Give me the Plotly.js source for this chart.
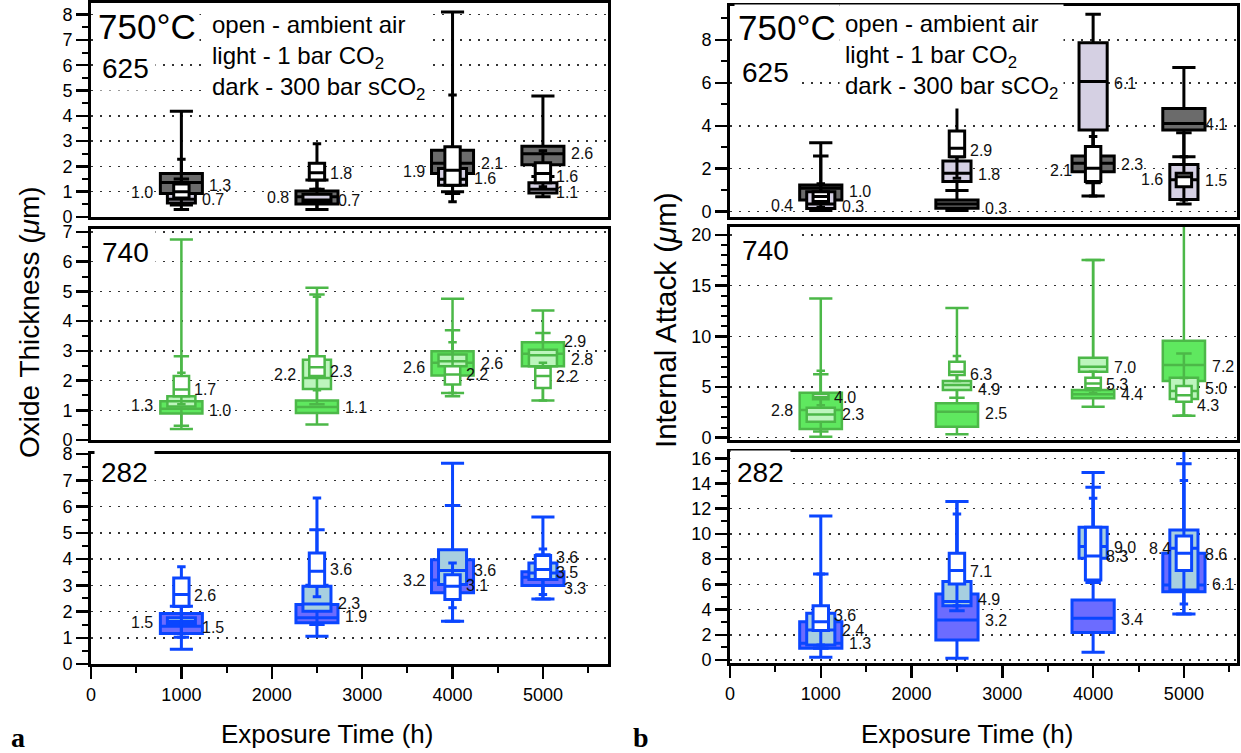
<!DOCTYPE html>
<html><head><meta charset="utf-8">
<script src="https://cdn.plot.ly/plotly-3.0.1.min.js"></script>
<style>html,body{margin:0;padding:0;background:#fff}#chart{width:1241px;height:753px}</style>
</head><body><div id="chart"></div>
<script>
// Exposure times (h)
const times = [1000, 2500, 4000, 5000];

// Box statistics per time: [lowerfence, q1, median, q3, upperfence]
// Oxide thickness, alloy 625
const ox625Open  = [[0.5,0.75,1.0,1.3,2.28],[1.1,1.46,1.75,2.12,2.9],[0.6,1.26,1.85,2.78,4.82],[1.2,1.35,1.72,2.14,2.62]];
const ox625Light = [[0.3,0.55,0.7,0.93,1.5],[0.3,0.55,0.67,0.9,1.1],[0.93,1.26,1.49,1.92,2.6],[0.8,0.95,1.1,1.35,1.6]];
const ox625Dark  = [[0.47,0.93,1.36,1.72,4.18],[0.3,0.51,0.8,1.03,1.46],[1.0,1.72,2.12,2.64,8.1],[1.6,2.07,2.5,2.8,4.78]];
// Oxide thickness, alloy 740
const ox740Open  = [[1.2,1.47,1.7,2.15,2.26],[1.67,2.15,2.45,2.82,4.82],[1.58,1.87,2.2,2.48,3.29],[1.33,1.75,2.15,2.43,2.6]];
const ox740Light = [[0.48,1.13,1.3,1.47,2.82],[1.2,1.72,2.09,2.7,4.9],[1.47,2.48,2.65,2.88,3.69],[1.84,2.48,2.85,3.04,3.6]];
const ox740Dark  = [[0.37,0.89,1.05,1.3,6.75],[0.52,0.91,1.11,1.33,5.12],[1.58,2.17,2.6,2.99,4.75],[1.33,2.48,2.9,3.29,4.36]];
// Oxide thickness, alloy 282
const ox282Open  = [[1.02,2.2,2.65,3.28,3.7],[2.56,2.96,3.53,4.23,6.32],[2.14,2.46,2.96,3.4,3.85],[2.65,3.22,3.6,4.13,4.38]];
const ox282Light = [[1.02,1.5,1.62,1.76,2.2],[1.5,2.01,2.29,2.96,5.11],[1.63,3.03,3.56,4.35,6.04],[2.48,3.22,3.47,3.85,4.16]];
const ox282Dark  = [[0.56,1.16,1.44,1.92,2.2],[1.06,1.57,1.76,2.27,3.0],[1.63,2.71,3.2,3.97,7.65],[2.48,2.99,3.3,3.51,5.6]];
// Internal attack, alloy 625
const ia625Open  = [[0.2,0.47,0.7,0.93,1.3],[1.55,2.56,2.95,3.76,4.97],[0.73,1.4,2.02,3.03,3.5],[0.54,1.16,1.63,1.79,2.56]];
const ia625Light = [[0.05,0.15,0.35,0.93,2.59],[0.98,1.4,1.79,2.36,2.56],[1.35,3.8,6.06,7.87,9.2],[0.36,0.57,1.48,2.2,3.68]];
const ia625Dark  = [[0.05,0.54,1.09,1.24,3.21],[0.05,0.16,0.36,0.54,0.98],[0.73,1.86,2.25,2.59,7.25],[2.56,3.8,4.11,4.81,6.72]];
// Internal attack, alloy 740
const ia740Open  = [[3.2,3.8,4.0,4.3,6.6],[5.6,6.18,6.5,7.5,8.06],[4.4,4.87,5.36,5.92,6.51],[2.17,3.55,4.2,5.1,5.9]];
const ia740Light = [[0.6,1.58,2.3,2.96,6.25],[3.95,4.7,5.2,5.59,6.84],[4.7,6.51,7.0,7.89,17.53],[2.17,3.82,4.6,5.92,8.3]];
const ia740Dark  = [[0.1,0.86,2.73,4.44,13.75],[0.33,1.09,2.57,3.39,12.8],[3.06,3.88,4.28,4.7,17.53],[2.17,5.59,7.17,9.57,22]];
// Internal attack, alloy 282
const ia282Open  = [[1.19,2.33,3.04,4.31,6.83],[4.31,6.03,7.09,8.47,11.59],[6.14,6.35,8.25,10.53,12.83],[4.44,7.09,8.47,9.84,14.23]];
const ia282Light = [[0.93,1.19,2.38,3.7,6.83],[3.9,4.31,4.63,6.22,12.57],[6.14,8.07,9.0,10.53,13.7],[3.65,5.56,8.86,10.32,15.56]];
const ia282Dark  = [[0.21,0.93,1.32,3.04,11.43],[0.13,1.59,3.17,5.24,12.57],[0.61,2.17,3.31,4.76,14.87],[3.65,5.42,5.95,8.47,17.0]];

// Value labels: [time, text, y, side(-1 left / 1 right), box it sits beside (0 open,1 light,2 dark)]
const ox625Labels = [[1000,'1.0',0.96,-1,2],[1000,'1.3',1.26,1,2],[1000,'0.7',0.7,1,1],
  [2500,'0.8',0.78,-1,2],[2500,'1.8',1.72,1,0],[2500,'0.7',0.67,1,1],
  [4000,'1.9',1.79,-1,2],[4000,'2.1',2.12,1,2],[4000,'1.6',1.53,1,1],
  [5000,'2.6',2.51,1,2],[5000,'1.6',1.59,1,0],[5000,'1.1',0.96,1,0]];
const ox740Labels = [[1000,'1.3',1.17,-1,2],[1000,'1.7',1.7,1,0],[1000,'1.0',1.0,1,2],
  [2500,'2.2',2.2,-1,1],[2500,'2.3',2.29,1,0],[2500,'1.1',1.08,1,2],
  [4000,'2.6',2.43,-1,2],[4000,'2.6',2.57,1,2],[4000,'2.2',2.2,1,0],
  [5000,'2.9',3.3,1,1],[5000,'2.8',2.71,1,2],[5000,'2.2',2.15,1,0]];
const ox282Labels = [[1000,'1.5',1.57,-1,2],[1000,'2.6',2.61,1,0],[1000,'1.5',1.38,1,1],
  [2500,'3.6',3.59,1,0],[2500,'2.3',2.29,1,1],[2500,'1.9',1.82,1,2],
  [4000,'3.2',3.19,-1,2],[4000,'3.6',3.56,1,1],[4000,'3.1',3.0,1,0],
  [5000,'3.6',4.04,1,0],[5000,'3.5',3.47,1,0],[5000,'3.3',2.87,1,1]];
const ia625Labels = [[1000,'0.4',0.28,-1,2],[1000,'1.0',0.93,1,2],[1000,'0.3',0.23,1,1],
  [2500,'2.9',2.84,1,0],[2500,'1.8',1.71,1,1],[2500,'0.3',0.16,1,2],
  [4000,'6.1',5.98,1,1],[4000,'2.1',1.91,-1,1],[4000,'2.3',2.2,1,2],
  [5000,'4.1',4.04,1,1],[5000,'1.6',1.48,-1,1],[5000,'1.5',1.43,1,1]];
const ia740Labels = [[1000,'2.8',2.73,-1,2],[1000,'4.0',3.95,1,0],[1000,'2.3',2.24,1,1],
  [2500,'6.3',6.28,1,0],[2500,'4.9',4.8,1,1],[2500,'2.5',2.4,1,2],
  [4000,'7.0',6.91,1,1],[4000,'5.3',5.26,1,0],[4000,'4.4',4.28,1,2],
  [5000,'7.2',7.0,1,2],[5000,'5.0',4.87,1,1],[5000,'4.3',3.22,1,0]];
const ia282Labels = [[1000,'3.6',3.49,1,0],[1000,'2.4',2.33,1,1],[1000,'1.3',1.27,1,2],
  [2500,'7.1',7.01,1,0],[2500,'4.9',4.76,1,1],[2500,'3.2',3.12,1,2],
  [4000,'9.0',8.94,1,1],[4000,'8.3',8.2,1,0],[4000,'3.4',3.25,1,2],
  [5000,'8.4',8.86,-1,0],[5000,'8.6',8.33,1,1],[5000,'6.1',5.95,1,2]];

const panelNames = ['625','740','282'];

// ---------- styles & layout ----------
const FONT = 'Liberation Sans, Arial, Helvetica, sans-serif';
const W = 1241, H = 753;
const px = x => x / W, py = y => 1 - y / H;
const styles = {
  '625': {line:'#000000', lw:3,   fill:['#ffffff','#d5d0e3','#6b6b6b']},
  '740': {line:'#4cb848', lw:2.5, fill:['#ffffff','#bdf5bd','#5fe85f']},
  '282': {line:'#0a46ff', lw:3,   fill:['#ffffff','#a7cfe0','#6c6cff']}
};
const boxWidths = [170, 310, 465];      // open, light, dark (h)
const labelShift = [12, 20, 27];        // px beside open, light, dark box

const panels = [
  {ax:'1', name:'625', sets:[ox625Open, ox625Light, ox625Dark], labels:ox625Labels, yr:[0,8.46], dt:1, mdt:0.5, xr:[0,5720], dom:[91,608], rows:[3,217], bottom:false},
  {ax:'2', name:'740', sets:[ox740Open, ox740Light, ox740Dark], labels:ox740Labels, yr:[0,7.1], dt:1, mdt:0.5, xr:[0,5720], dom:[91,608], rows:[229,440], bottom:false},
  {ax:'3', name:'282', sets:[ox282Open, ox282Light, ox282Dark], labels:ox282Labels, yr:[0,8.0], dt:1, mdt:0.5, xr:[0,5720], dom:[91,608], rows:[454,664], bottom:true},
  {ax:'4', name:'625', sets:[ia625Open, ia625Light, ia625Dark], labels:ia625Labels, yr:[-0.25,9.58], dt:2, mdt:1, xr:[0,5585], dom:[730,1237], rows:[6,217], bottom:false},
  {ax:'5', name:'740', sets:[ia740Open, ia740Light, ia740Dark], labels:ia740Labels, yr:[-0.23,20.8], dt:5, mdt:1, xr:[0,5585], dom:[730,1237], rows:[227,440], bottom:false},
  {ax:'6', name:'282', sets:[ia282Open, ia282Light, ia282Dark], labels:ia282Labels, yr:[-0.24,16.5], dt:2, mdt:1, xr:[0,5585], dom:[730,1237], rows:[452,663], bottom:true}
];

const traces = [];
const annotations = [];
const layout = {
  width: W, height: H, margin:{l:0,r:0,t:0,b:0},
  paper_bgcolor:'#fff', plot_bgcolor:'#fff', showlegend:false, boxmode:'overlay',
  font:{family:FONT, color:'#000'}, annotations
};

panels.forEach(p => {
  const st = styles[p.name];
  const xa = 'x' + (p.ax === '1' ? '' : p.ax), ya = 'y' + (p.ax === '1' ? '' : p.ax);
  // draw dark (widest) first, then light, then open on top
  [2,1,0].forEach(s => {
    const d = p.sets[s];
    traces.push({
      type:'box', xaxis:xa, yaxis:ya, x:times,
      lowerfence:d.map(v=>v[0]), q1:d.map(v=>v[1]), median:d.map(v=>v[2]),
      q3:d.map(v=>v[3]), upperfence:d.map(v=>v[4]),
      width:boxWidths[s], whiskerwidth:0.55, boxpoints:false,
      fillcolor:st.fill[s], line:{color:st.line, width:st.lw},
      hoverinfo:'skip', showlegend:false
    });
  });
  p.labels.forEach(l => {
    annotations.push({
      xref:xa, yref:ya, x:l[0], y:l[2], text:l[1], showarrow:false,
      xanchor: l[3] > 0 ? 'left' : 'right', yanchor:'middle',
      xshift: l[3] * labelShift[l[4]], borderpad:0,
      font:{family:FONT, size:16, color:'#111'}
    });
  });
  const xkey = 'xaxis' + (p.ax === '1' ? '' : p.ax), ykey = 'yaxis' + (p.ax === '1' ? '' : p.ax);
  layout[xkey] = {
    domain:[px(p.dom[0]), px(p.dom[1])], range:p.xr, anchor:ya,
    showline:true, mirror:true, linewidth:3, linecolor:'#000',
    showgrid:false, zeroline:false,
    ticks: p.bottom ? 'outside' : '', showticklabels:p.bottom,
    tick0:0, dtick:1000, ticklen:12, tickwidth:2.5, tickcolor:'#000',
    minor: p.bottom ? {dtick:500, ticklen:6, tickwidth:2, tickcolor:'#000', ticks:'outside', showgrid:false} : undefined,
    tickfont:{family:FONT, size:18, color:'#000'}
  };
  layout[ykey] = {
    domain:[py(p.rows[1]), py(p.rows[0])], range:p.yr, anchor:xa,
    showline:true, mirror:true, linewidth:3, linecolor:'#000',
    ticks:'outside', ticklen:12, tickwidth:2.5, tickcolor:'#000', tick0:0, dtick:p.dt,
    minor:{dtick:p.mdt, ticklen:6, tickwidth:2, tickcolor:'#000', ticks:'outside', showgrid:false},
    showgrid:true, gridcolor:'#333', griddash:'2px,7px', gridwidth:1.5, zeroline:false,
    tickfont:{family:FONT, size:18, color:'#000'}
  };
});

// panel texts
function txt(x, y, t, size, opts) {
  annotations.push(Object.assign({
    xref:'paper', yref:'paper', x:px(x), y:py(y), text:t, showarrow:false,
    xanchor:'left', yanchor:'middle', font:{family:FONT, size:size, color:'#000'}
  }, opts || {}));
}
const legendText = 'open - ambient air<br>light - 1 bar CO<sub>2</sub><br>dark - 300 bar sCO<sub>2</sub>';
// left column
txt(94, 27, '750°C', 35, {bgcolor:'#fff', borderpad:3});
txt(95, 68, panelNames[0], 28, {bgcolor:'#fff', borderpad:6});
txt(206, 57, legendText, 24, {bgcolor:'#fff', borderpad:5, align:'left'});
txt(95, 253, panelNames[1], 28, {bgcolor:'#fff', borderpad:6});
txt(94, 472, panelNames[2], 28, {bgcolor:'#fff', borderpad:6});
// right column
txt(734, 28, '750°C', 35, {bgcolor:'#fff', borderpad:3});
txt(735, 72, panelNames[0], 28, {bgcolor:'#fff', borderpad:6});
txt(839, 56, legendText, 24, {bgcolor:'#fff', borderpad:5, align:'left'});
txt(735, 251, panelNames[1], 28, {bgcolor:'#fff', borderpad:6});
txt(730, 472, panelNames[2], 28, {bgcolor:'#fff', borderpad:6});
// axis titles
txt(29, 322, 'Oxide Thickness (<i>μ</i>m)', 28, {xanchor:'center', textangle:-90});
txt(665, 320, 'Internal Attack (<i>μ</i>m)', 29.5, {xanchor:'center', textangle:-90});
txt(327, 734, 'Exposure Time (h)', 26, {xanchor:'center'});
txt(967, 734, 'Exposure Time (h)', 26, {xanchor:'center'});
txt(18, 737, '<b>a</b>', 28, {xanchor:'center', font:{family:'Liberation Serif, DejaVu Serif, serif', size:28, color:'#000'}});
txt(641, 737, '<b>b</b>', 28, {xanchor:'center', font:{family:'Liberation Serif, DejaVu Serif, serif', size:28, color:'#000'}});

Plotly.newPlot('chart', traces, layout, {staticPlot:true, displayModeBar:false});
</script>
</body></html>
